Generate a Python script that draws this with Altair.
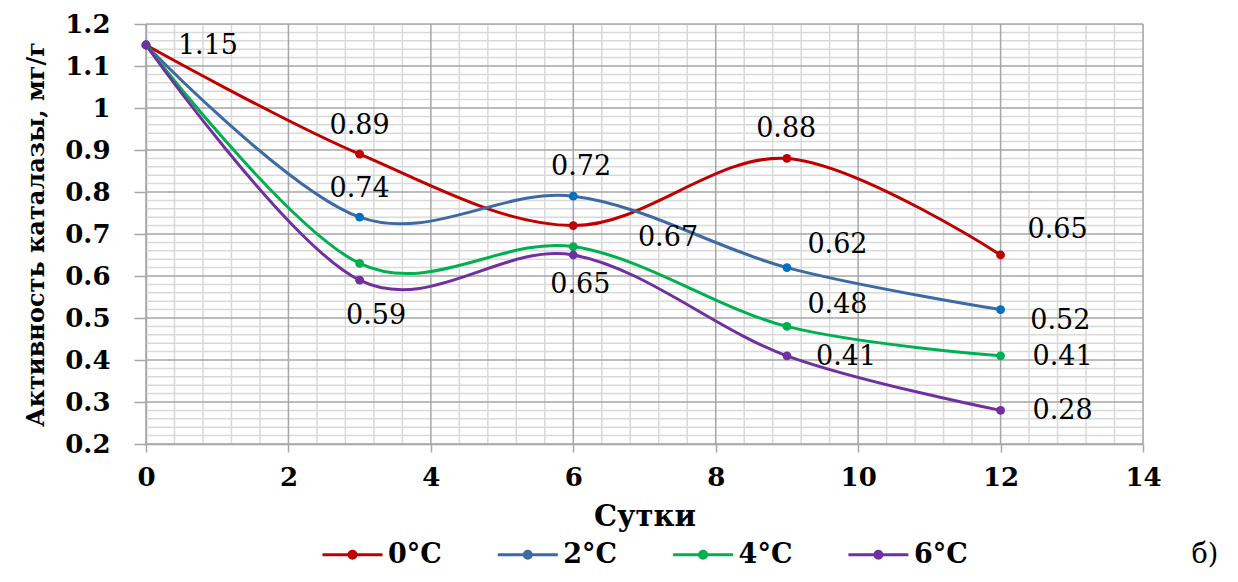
import altair as alt
import pandas as pd

# ---- data ----
days = [0, 3, 6, 9, 12]
series_names = ["0°C", "2°C", "4°C", "6°C"]
s0 = [1.15, 0.89, 0.72, 0.88, 0.65]
s2 = [1.15, 0.74, 0.79, 0.62, 0.52]
s4 = [1.15, 0.63, 0.67, 0.48, 0.41]
s6 = [1.15, 0.59, 0.65, 0.41, 0.28]

line_colors = ["#C00000", "#3D6AA3", "#00B050", "#7030A0"]
dot_colors = ["#C00000", "#0070C0", "#00B050", "#7030A0"]

# data labels as they appear in the picture (text and anchor in data units)
label_text = ["1.15", "0.89", "0.74", "0.59", "0.72", "0.67", "0.65", "0.88",
              "0.62", "0.48", "0.41", "0.65", "0.52", "0.41", "0.28"]
label_x = [0.87, 3.0, 3.0, 3.23, 6.11, 7.33, 6.1, 8.99,
           9.71, 9.71, 9.83, 12.8, 12.84, 12.87, 12.87]
label_y = [1.148, 0.957, 0.807, 0.505, 0.86, 0.69, 0.579, 0.95,
           0.674, 0.531, 0.407, 0.71, 0.493, 0.407, 0.279]
panel_tag = ["б)"]

x_major = [0, 2, 4, 6, 8, 10, 12, 14]
y_major = [0.2, 0.3, 0.4, 0.5, 0.6, 0.7, 0.8, 0.9, 1.0, 1.1, 1.2]
x_minor = [round(i * 0.4, 2) for i in range(36) if i % 5 != 0]
y_minor = [round(0.2 + i * 0.02, 2) for i in range(51) if i % 5 != 0]

rows = []
for name, vals in zip(series_names, [s0, s2, s4, s6]):
    for d, v in zip(days, vals):
        rows.append({"day": d, "value": v, "series": name})
df = pd.DataFrame(rows)
labels_df = pd.DataFrame({"text": label_text, "lx": label_x, "ly": label_y})

SERIF = "DejaVu Serif"
xscale = alt.Scale(domain=[0, 14], nice=False, zero=False)
yscale = alt.Scale(domain=[0.2, 1.2], nice=False, zero=False)

X_AXIS = alt.Axis(values=x_major, grid=False, title="Сутки",
                  domainColor="#A6A6A6", domainWidth=1.5,
                  tickColor="#A6A6A6", tickWidth=1.5, tickSize=8,
                  labelFont=SERIF, labelFontSize=26, labelFontWeight="bold",
                  labelColor="black", labelPadding=12, labelFlush=False,
                  titleFont=SERIF, titleFontSize=29, titleFontWeight="bold",
                  titleColor="black", titlePadding=12)
Y_AXIS = alt.Axis(values=y_major, format=".1~f", grid=False,
                  title="Активность каталазы,  мг/г",
                  domainColor="#A6A6A6", domainWidth=1.5,
                  tickColor="#A6A6A6", tickWidth=1.5, tickSize=12,
                  labelFont=SERIF, labelFontSize=26, labelFontWeight="bold",
                  labelColor="black", labelPadding=24,
                  titleFont=SERIF, titleFontSize=24, titleFontWeight="bold",
                  titleColor="black", titlePadding=16)


def X(field):
    return alt.X(field, scale=xscale, axis=X_AXIS)


def Y(field):
    return alt.Y(field, scale=yscale, axis=Y_AXIS)


xminor_layer = alt.Chart(pd.DataFrame({"v": x_minor})).mark_rule(
    color="#D9D9D9", strokeWidth=1.5).encode(x=X("v:Q"))
yminor_layer = alt.Chart(pd.DataFrame({"v": y_minor})).mark_rule(
    color="#D9D9D9", strokeWidth=1.5).encode(y=Y("v:Q"))
xmajor_layer = alt.Chart(pd.DataFrame({"v": x_major})).mark_rule(
    color="#A6A6A6", strokeWidth=1.5).encode(x=X("v:Q"))
ymajor_layer = alt.Chart(pd.DataFrame({"v": y_major})).mark_rule(
    color="#A6A6A6", strokeWidth=1.5).encode(y=Y("v:Q"))

# legend symbol: a line with a dot in the middle (two rings make a solid dot)
legend_symbol = ("M-1,0H1"
                 "M-0.05,0A0.05,0.05,0,1,1,0.05,0A0.05,0.05,0,1,1,-0.05,0"
                 "M-0.117,0A0.117,0.117,0,1,1,0.117,0A0.117,0.117,0,1,1,-0.117,0")

lines = alt.Chart(df).mark_line(interpolate="cardinal", tension=0, strokeWidth=3).encode(
    x=X("day:Q"),
    y=Y("value:Q"),
    color=alt.Color("series:N",
                    scale=alt.Scale(domain=series_names, range=line_colors),
                    legend=alt.Legend(
                        title=None, orient="none", direction="horizontal",
                        legendX=175, legendY=499, symbolSize=3600,
                        symbolType=legend_symbol, symbolStrokeWidth=3,
                        labelFont=SERIF, labelFontSize=27, labelFontWeight="bold",
                        labelColor="black", labelOffset=4, columnPadding=49.3)),
    detail="series:N",
)

points = alt.Chart(df).mark_point(filled=True, size=78, opacity=1).encode(
    x=X("day:Q"),
    y=Y("value:Q"),
    fill=alt.Fill("series:N", scale=alt.Scale(domain=series_names, range=dot_colors),
                  legend=None),
)

texts = alt.Chart(labels_df).mark_text(
    font=SERIF, fontSize=27, color="black", align="center", baseline="middle").encode(
    x=X("lx:Q"),
    y=Y("ly:Q"),
    text="text:N",
)

tag = alt.Chart(pd.DataFrame({"t": panel_tag})).mark_text(
    font=SERIF, fontSize=27, color="black", align="center", baseline="middle").encode(
    x=alt.value(1059), y=alt.value(531), text="t:N")

chart = alt.layer(xminor_layer, yminor_layer, xmajor_layer, ymajor_layer,
                  lines, points, texts, tag).properties(
    width=997, height=420,
    autosize=alt.AutoSizeParams(type="none"),
    padding={"left": 138, "top": 16, "right": 86, "bottom": 128},
).resolve_scale(color="independent", fill="independent").configure_view(
    stroke=None).configure(background="white")

chart.save("out.html", embed_options={"renderer": "svg", "actions": False})
